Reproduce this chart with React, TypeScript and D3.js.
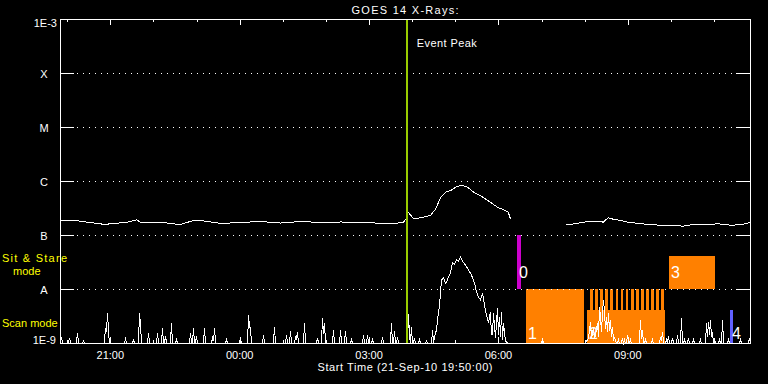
import React from 'react';
import * as d3 from 'd3';

// ---------- data ----------
const TITLE = 'GOES 14 X-Rays:';
const START_LABEL = 'Start Time (21-Sep-10 19:50:00)';
const SPAN_MINUTES: [number, number] = [0, 960]; // minutes after 21-Sep-10 19:50
const FLUX_DOMAIN: [number, number] = [1e-9, 1e-3];

const LEVEL_FLUX = [1e-9, 1e-8, 1e-7, 1e-6, 1e-5, 1e-4, 1e-3];
const LEVEL_LABELS = ['1E-9', 'A', 'B', 'C', 'M', 'X', '1E-3'];

const HOUR_TICKS = [10, 70, 130, 190, 250, 310, 370, 430, 490, 550, 610, 670, 730, 790, 850, 910];
const MAJOR_TICKS = [70, 250, 430, 610, 790];
const MAJOR_LABELS = ['21:00', '00:00', '03:00', '06:00', '09:00'];

const EVENT_PEAK = 482.4;
const EVENT_LABEL = 'Event Peak';

const F = 1e-9; // floor of the short channel

// long channel (1-8 A), null = data gap
const LONG_CHANNEL: [number, number | null][] = [
  [1, 1.87e-7], [21, 1.9e-7], [38, 1.76e-7], [56, 1.65e-7], [60, 1.58e-7], [74, 1.69e-7],
  [90, 1.72e-7], [106, 1.95e-7], [111, 1.76e-7], [125, 1.76e-7], [139, 1.76e-7], [156, 1.65e-7],
  [167, 1.6e-7], [185, 1.9e-7], [195, 1.9e-7], [223, 1.67e-7], [250, 1.74e-7], [278, 1.82e-7],
  [306, 1.7e-7], [334, 1.82e-7], [362, 1.74e-7], [390, 1.78e-7], [417, 1.74e-7], [445, 1.69e-7],
  [463, 1.65e-7], [477, 1.76e-7], [481, 2.04e-7], [484, 2.7e-7], [491, 2.04e-7], [501, 2.13e-7],
  [515, 2.35e-7], [522, 3.12e-7], [529, 5.13e-7], [536, 6.33e-7], [543, 6.8e-7], [550, 7.85e-7],
  [557, 8.43e-7], [565, 8.1e-7], [575, 6.33e-7], [584, 5.5e-7], [598, 4.14e-7], [608, 3.34e-7],
  [619, 2.9e-7], [623, 2.7e-7], [626, 2.04e-7], [660, null],
  [703, 1.58e-7], [717, 1.65e-7], [723, 1.72e-7], [737, 1.84e-7], [751, 1.84e-7], [755, 1.76e-7],
  [762, 2.13e-7], [769, 2.0e-7], [779, 1.9e-7], [789, 1.76e-7], [797, 1.72e-7], [807, 1.65e-7],
  [828, 1.58e-7], [835, 1.51e-7], [858, 1.51e-7], [867, 1.49e-7], [877, 1.58e-7], [890, 1.6e-7],
  [904, 1.6e-7], [915, 1.65e-7], [932, 1.55e-7], [946, 1.58e-7], [953, 1.65e-7], [959, 1.76e-7],
];

// short channel (0.5-4 A)
const SHORT_CHANNEL: [number, number][] = [
  [0, F], [1.4, 1.29e-9], [2.8, F],
  [11, F], [12.5, 1.24e-9], [14, F],
  [22, F], [23.7, 1.53e-9], [25, F],
  [31, F], [32, 1.14e-9], [33, F],
  [61, F], [62.6, 1.9e-9], [64, 1.6e-9], [65.4, 3.6e-9], [66.8, 1.67e-9], [68, F],
  [89, F], [90.4, 1.19e-9], [92, F],
  [100, F], [101.6, 1.14e-9], [103, F],
  [108.5, F], [109.9, 3.6e-9], [111.3, 2.15e-9], [112.7, F],
  [121, F], [122.4, 1.53e-9], [124, F],
  [133.6, F], [135, 1.53e-9], [136.4, F],
  [140.5, F], [141.9, 1.9e-9], [143.3, F], [144.7, F], [146.1, 1.35e-9], [147.5, F],
  [153, F], [154.4, 2.35e-9], [155.8, F],
  [160, F], [161.4, 1.14e-9], [162.8, F],
  [179.5, F], [180.9, 1.53e-9], [182.3, F], [183.6, F], [185, 1.9e-9], [186.4, F], [187.8, F], [189.2, 1.35e-9], [190.6, F],
  [198.9, F], [200.3, 1.9e-9], [201.7, F],
  [210.1, F], [211.5, 1.24e-9], [212.9, 1.1e-9], [214.3, 1.9e-9], [215.7, F],
  [229.6, F], [231, 1.14e-9], [232.4, F],
  [249, F], [250.4, 1.24e-9], [251.8, F],
  [260.2, F], [261.6, 3.3e-9], [263, 2.0e-9], [264.3, 1.9e-9], [265.7, F],
  [281, F], [282.4, 1.41e-9], [283.8, F],
  [296.3, F], [297.7, 1.98e-9], [299.1, F],
  [313, F], [314.4, 1.41e-9], [315.8, F],
  [318.6, F], [320, 1.67e-9], [321.4, F],
  [325.6, F], [327, 1.29e-9], [328.3, 1.2e-9], [329.7, 1.6e-9], [331.1, F],
  [338.1, F], [339.5, 2.35e-9], [340.9, F],
  [356.2, F], [357.6, 1.24e-9], [359, F],
  [363.1, F], [364.5, 2.9e-9], [365.9, 1.5e-9], [367.3, 2.35e-9], [368.7, F],
  [378.4, F], [379.8, 1.74e-9], [381.2, F],
  [388.2, F], [389.6, 1.74e-9], [391, F],
  [395.1, F], [396.5, 1.67e-9], [397.9, F],
  [403.5, F], [404.9, 1.14e-9], [406.3, F],
  [420.2, F], [421.6, 1.41e-9], [423, F],
  [425.7, F], [427.1, 1.41e-9], [428.5, F],
  [432.7, F], [434.1, 1.14e-9], [435.5, F],
  [446.6, F], [448, 1.29e-9], [449.4, F],
  [459.1, F], [460.5, 2.35e-9], [461.9, F], [463.3, F], [464.7, 1.67e-9], [466.1, F], [467.5, F], [468.9, 1.29e-9], [470.3, F],
  [482.8, F], [484.2, 3.44e-9], [485.6, 1.3e-9], [486.9, F], [488.3, 1.98e-9], [489.7, F], [491.1, F], [492.5, 1.24e-9], [493.9, F],
  [498.1, F], [499.5, 1.14e-9], [500.9, F],
  [507.8, F], [509.2, 1.09e-9], [510.6, F],
  [516.2, F], [517.6, 1.74e-9], [519, F],
  [520.3, 1.3e-9], [523.1, 1.74e-9], [524.5, 2.67e-9], [527.3, 5.0e-9], [528.7, 8.42e-9], [530.1, 14.7e-9],
  [532.9, 16.0e-9], [535.6, 12.9e-9], [537, 13.5e-9], [539.8, 16.7e-9], [542.6, 19.8e-9], [545.4, 30.3e-9],
  [548.2, 29.0e-9], [551, 34.4e-9], [553.8, 33.0e-9], [556.5, 39e-9], [559.3, 33e-9], [563.5, 27.8e-9],
  [567.7, 22.5e-9], [571.8, 18.1e-9], [576, 12.9e-9], [578.8, 8.8e-9], [581.6, 7.11e-9], [584.3, 6.25e-9],
  [587.1, 8.42e-9], [589.9, 5.05e-9], [592.7, 3.3e-9], [595.5, 2.35e-9], [598.2, 3.75e-9], [599.6, 1.41e-9],
  [601, 1.41e-9], [602.4, 3.6e-9], [605.2, 1.24e-9], [608, 4.45e-9], [609.4, 1.41e-9], [610.8, 3.03e-9],
  [612.2, 1.3e-9], [613.6, 3.75e-9], [615, 1.14e-9], [616.3, 2.35e-9], [619.1, 1.09e-9], [621.9, F],
  [669.2, F], [670.6, 1.14e-9], [672, F],
  [730.4, F], [734.6, 1.24e-9], [737.4, 2.45e-9], [738.8, 1.2e-9], [740.2, 1.53e-9], [741.6, 1.98e-9],
  [743, 1.2e-9], [744.3, 1.41e-9], [747.1, 2.35e-9], [748.5, 1.3e-9], [749.9, 4.64e-9], [751.3, 3.03e-9],
  [752.7, 1.6e-9], [754.1, 3.6e-9], [755.5, 6.25e-9], [756.9, 3.6e-9], [758.3, 1.8e-9], [759.7, 3.03e-9],
  [761, 1.6e-9], [762.4, 3.6e-9], [763.8, 1.7e-9], [765.2, 2.67e-9], [766.6, 1.3e-9], [768, 1.98e-9],
  [769.4, 1.1e-9], [770.8, 1.24e-9], [773.6, F],
  [775, F], [776.3, 1.14e-9], [777.7, F],
  [780.5, F], [781.9, 1.24e-9], [783.3, F], [784.7, 1.14e-9], [786, F],
  [787.5, F], [788.9, 1.41e-9], [790.3, F], [791.6, F], [793, 1.14e-9], [794.4, F],
  [805.5, F], [806.9, 2.67e-9], [808.3, 1.2e-9], [809.7, 1.74e-9], [811.1, F],
  [812.5, F], [813.9, 1.14e-9], [815.3, F],
  [822.2, F], [823.6, 1.14e-9], [825, F],
  [833.4, F], [834.8, 1.29e-9], [836.2, 1.1e-9], [837.6, 1.6e-9], [839, F],
  [841.7, F], [843.1, 1.14e-9], [844.5, F], [845.9, 1.35e-9], [847.3, F],
  [850.1, F], [851.5, 1.24e-9], [852.9, F],
  [857, F], [858.4, 1.41e-9], [859.8, F],
  [862.6, F], [864, 2.9e-9], [865.4, F],
  [866.8, F], [868.2, 1.14e-9], [869.6, F],
  [872.3, F], [873.7, 1.24e-9], [875.1, F],
  [879.3, F], [880.7, 1.14e-9], [882.1, F],
  [889, F], [890.4, 1.14e-9], [891.8, F],
  [897.4, F], [898.8, 2.35e-9], [900.2, 1.3e-9], [901.5, 2.45e-9], [902.9, 1.4e-9], [904.3, 2.67e-9],
  [905.7, 1.3e-9], [907.1, 1.6e-9], [908.5, F], [909.9, 1.14e-9], [911.3, F],
  [915.5, F], [916.9, 1.14e-9], [918.3, F],
  [919.7, F], [921.1, 2.67e-9], [922.5, F],
  [928, F], [929.4, 1.14e-9], [930.8, F],
  [944.7, F], [946.1, 1.14e-9], [947.5, F],
  [957.2, F], [958.6, 1.24e-9], [960, F],
];

// observing modes: band rows (flux range of each row)
const MODE_NAMES = ['Sit & Stare', 'Scan mode'];
const MODE_BANDS: Record<string, [number, number]> = { sit: [1e-8, 1e-7], scan: [1e-9, 1e-8] };

// observations: label, start, end (minutes), mode, row fraction [lo, hi], kind
const OBS_LABELS = ['0', '1', '2', '3', '4'];
const OBS_START = [635.8, 648.3, 733.2, 847.3, 932.2];
const OBS_END = [641.4, 729.0, 841.7, 911.3, 936.3];
const OBS_MODE = ['sit', 'scan', 'scan', 'sit', 'scan'];
const OBS_ROW: [number, number][] = [[0, 1], [0, 1], [0, 0.61], [0, 0.61], [0, 0.61]];
const OBS_KIND = ['a', 'b', 'b', 'b', 'c'];

// short repeated exposures (scan mode, upper row)
const STRIPE_START = [737.4, 744.3, 751.3, 758.3, 765.7, 773.1, 780.1, 787.0, 794.3, 801.3, 808.3, 815.2, 822.2, 829.2, 836.5];
const STRIPE_LENGTH = 3.7;

// ---------- chart ----------
const W = 768, H = 384;
const L = 60, R = 750, T = 19, B = 343;
const KIND_COLOR: Record<string, string> = { a: '#cc00cc', b: '#ff8000', c: '#6060ff' };
const FONT = '"Liberation Sans", Arial, sans-serif';

export default function App() {
  const x = d3.scaleLinear().domain(SPAN_MINUTES).range([L, R]);
  const y = d3.scaleLog().domain(FLUX_DOMAIN).range([B, T]);
  const yc = (v: number) => Math.min(B, y(Math.max(v, FLUX_DOMAIN[0])));

  const longLine = d3.line<[number, number | null]>()
    .defined(d => d[1] !== null)
    .x(d => x(d[0]))
    .y(d => yc(d[1] as number));
  const shortLine = d3.line<[number, number]>().x(d => x(d[0])).y(d => yc(d[1]));

  const bandY = (mode: string, frac: number) => {
    const [lo, hi] = MODE_BANDS[mode];
    const y0 = y(lo), y1 = y(hi);
    return y0 + (y1 - y0) * frac;
  };

  const tick = { stroke: '#fff', strokeWidth: 1, shapeRendering: 'crispEdges' as const };

  return (
    <svg width={W} height={H} style={{ position: 'absolute', left: 0, top: 0, background: '#000' }}
      fontFamily={FONT}>
      <rect x={0} y={0} width={W} height={H} fill="#000" />
      <text x={(L + R) / 2} y={14} fill="#fff" fontSize={11} textAnchor="middle" textLength={107}
        lengthAdjust="spacing">{TITLE}</text>

      {/* observation bars */}
      {OBS_LABELS.map((lab, i) => {
        const x0 = x(OBS_START[i]), x1 = x(OBS_END[i]);
        const yb = bandY(OBS_MODE[i], OBS_ROW[i][0]);
        const yt = bandY(OBS_MODE[i], OBS_ROW[i][1]);
        return (
          <rect key={'o' + i} x={x0} y={yt} width={Math.max(1, x1 - x0)} height={yb - yt}
            fill={KIND_COLOR[OBS_KIND[i]]} shapeRendering="crispEdges" />
        );
      })}
      {STRIPE_START.map((s, i) => {
        const x0 = x(s), x1 = x(s + STRIPE_LENGTH);
        const yb = bandY('scan', 0.61), yt = bandY('scan', 1);
        return <rect key={'s' + i} x={x0} y={yt} width={x1 - x0} height={yb - yt} fill={KIND_COLOR.b}
          shapeRendering="crispEdges" />;
      })}

      {/* grid levels */}
      {LEVEL_FLUX.slice(1, -1).map((v, i) => (
        <g key={'g' + i}>
          <line x1={L} x2={L + 14} y1={y(v) + 0.5} y2={y(v) + 0.5} {...tick} />
          <line x1={R - 14} x2={R} y1={y(v) + 0.5} y2={y(v) + 0.5} {...tick} />
          <line x1={L + 17} x2={R - 15} y1={y(v) + 0.5} y2={y(v) + 0.5} stroke="#fff" strokeWidth={1}
            strokeDasharray="1 5" shapeRendering="crispEdges" />
        </g>
      ))}

      {/* data */}
      <path d={longLine(LONG_CHANNEL) || ''} fill="none" stroke="#fff" strokeWidth={1} shapeRendering="crispEdges"
        transform="translate(0.5,0.5)" />
      <path d={shortLine(SHORT_CHANNEL) || ''} fill="none" stroke="#fff" strokeWidth={1} shapeRendering="crispEdges"
        transform="translate(0.5,0)" />

      {/* observation labels */}
      {OBS_LABELS.map((lab, i) => {
        const yb = bandY(OBS_MODE[i], 0);
        return (
          <text key={'l' + i} x={x(OBS_START[i]) + 2} y={OBS_MODE[i] === 'sit' ? yb - 11 : yb - 4}
            fill="#fff" fontSize={16}>{lab}</text>
        );
      })}

      {/* event peak */}
      <line x1={x(EVENT_PEAK)} x2={x(EVENT_PEAK)} y1={T} y2={B} stroke="#99cc00" strokeWidth={2}
        shapeRendering="crispEdges" />
      <text x={x(EVENT_PEAK) + 10} y={47} fill="#fff" fontSize={11} textLength={60}
        lengthAdjust="spacing">{EVENT_LABEL}</text>

      {/* frame */}
      <rect x={L + 0.5} y={T + 0.5} width={R - L} height={B - T} fill="none" stroke="#fff" strokeWidth={1}
        shapeRendering="crispEdges" />

      {/* time ticks */}
      {HOUR_TICKS.map((m, i) => {
        const major = MAJOR_TICKS.includes(m);
        const len = major ? 6 : 3;
        const xx = Math.round(x(m)) + 0.5;
        return (
          <g key={'t' + i}>
            <line x1={xx} x2={xx} y1={T} y2={T + len} {...tick} />
            <line x1={xx} x2={xx} y1={B} y2={B - len} {...tick} />
          </g>
        );
      })}
      {MAJOR_TICKS.map((m, i) => (
        <text key={'tl' + i} x={x(m)} y={359} fill="#fff" fontSize={11} textAnchor="middle">{MAJOR_LABELS[i]}</text>
      ))}
      <text x={(L + R) / 2} y={371} fill="#fff" fontSize={11} textAnchor="middle" textLength={175}
        lengthAdjust="spacing">{START_LABEL}</text>

      {/* level labels */}
      {LEVEL_LABELS.map((lab, i) => {
        const v = LEVEL_FLUX[i];
        if (i === 0) return <text key={'y' + i} x={56} y={y(v) + 1} fill="#fff" fontSize={11} textAnchor="end">{lab}</text>;
        if (i === LEVEL_LABELS.length - 1)
          return <text key={'y' + i} x={57} y={y(v) + 8} fill="#fff" fontSize={11} textAnchor="end">{lab}</text>;
        return <text key={'y' + i} x={44} y={y(v) + 4.5} fill="#fff" fontSize={11} textAnchor="middle">{lab}</text>;
      })}

      {/* mode labels */}
      <text x={2} y={262} fill="#ffff00" fontSize={11} textLength={65} lengthAdjust="spacing">{MODE_NAMES[0]}</text>
      <text x={13} y={275} fill="#ffff00" fontSize={11}>mode</text>
      <text x={2} y={327} fill="#ffff00" fontSize={11}>{MODE_NAMES[1]}</text>
    </svg>
  );
}
